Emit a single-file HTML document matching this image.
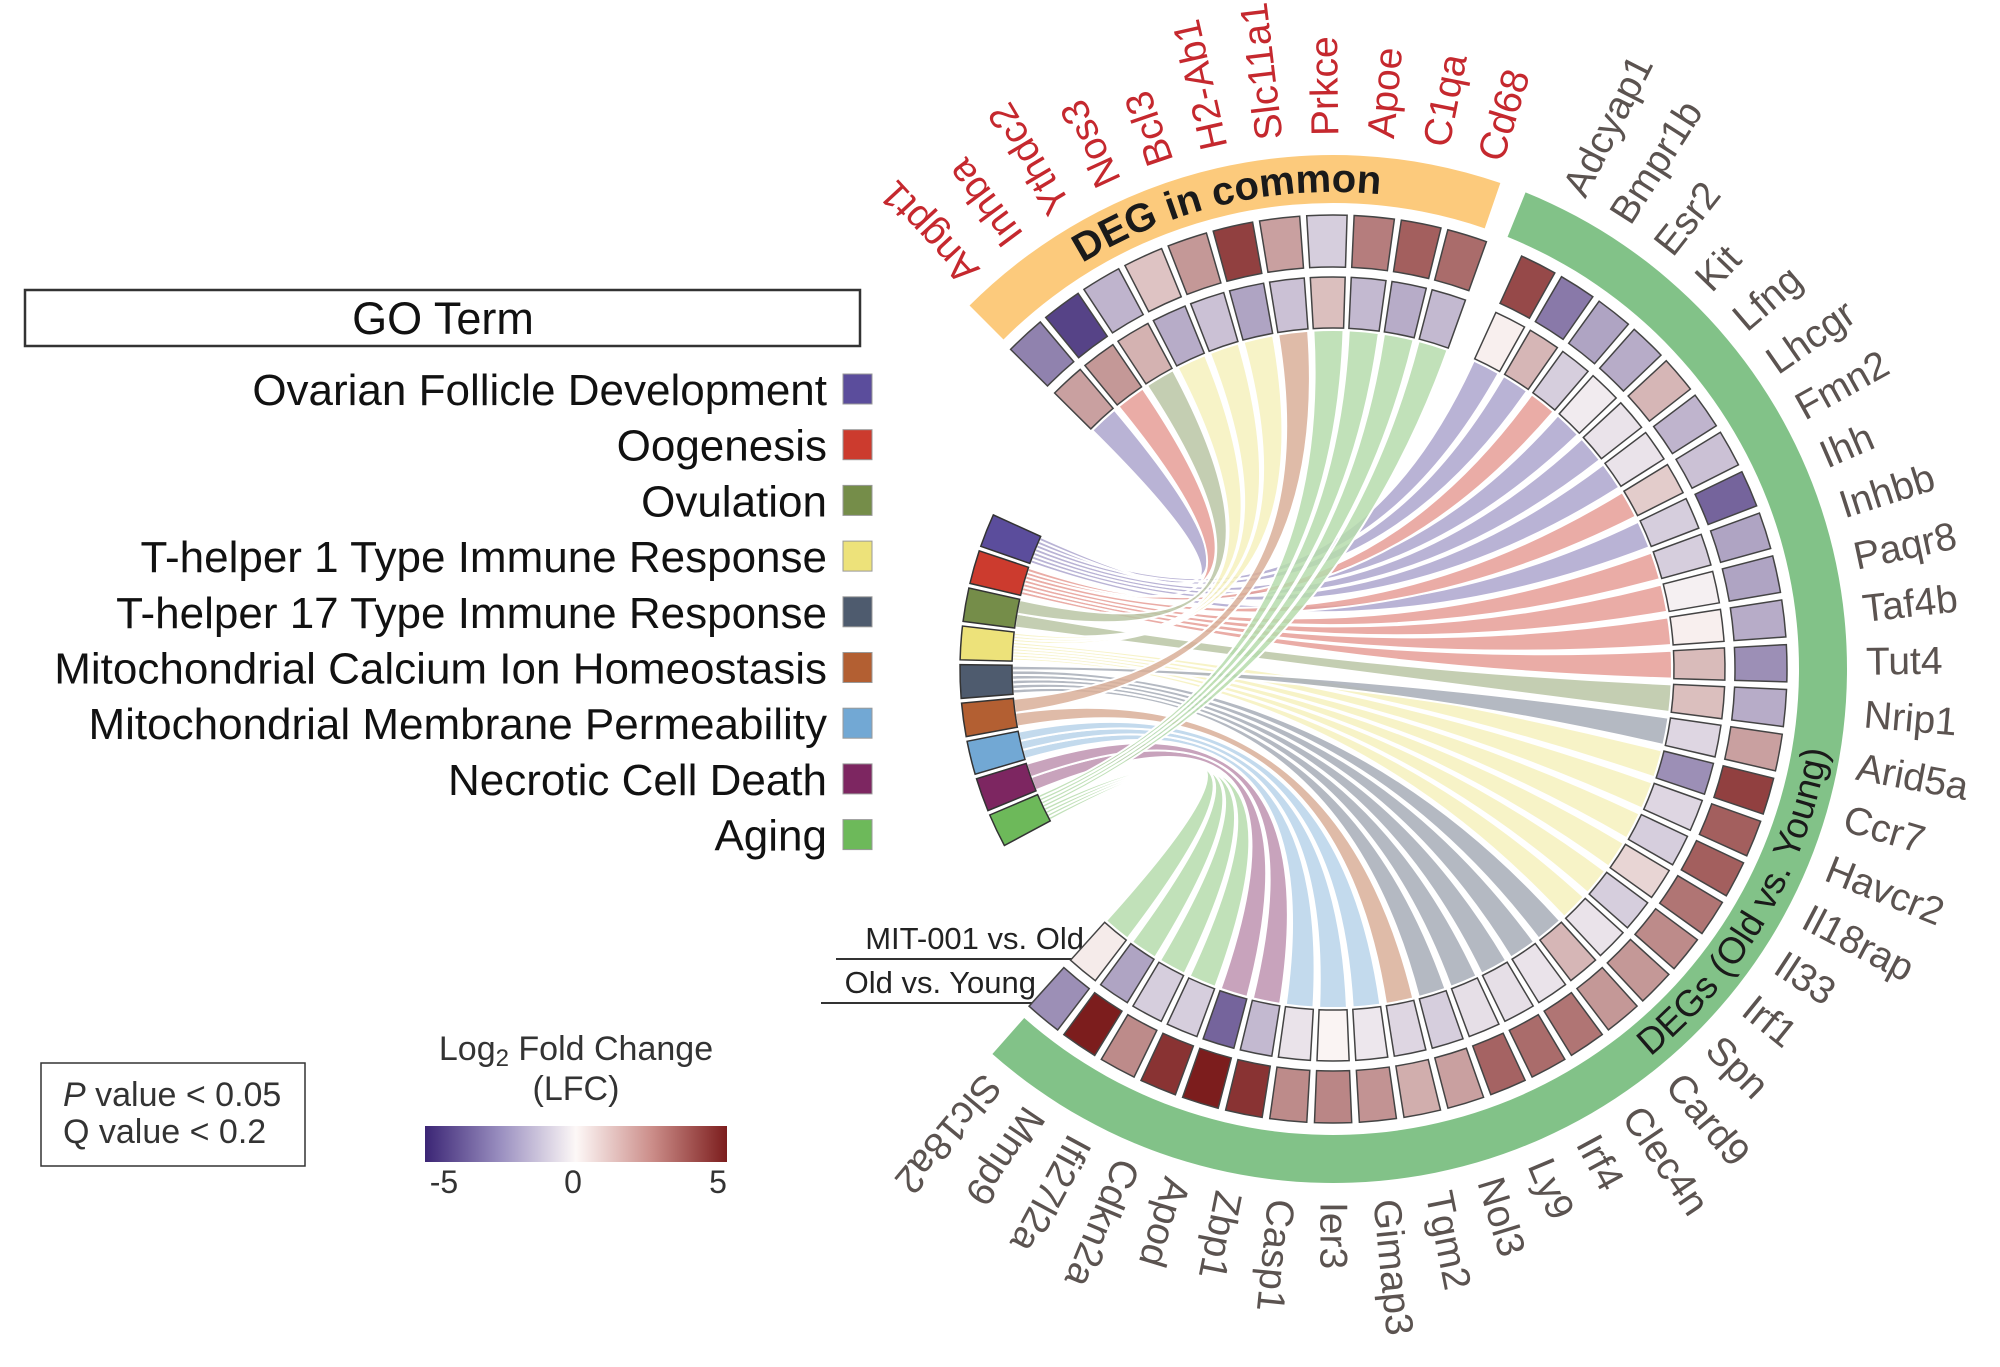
<!DOCTYPE html>
<html><head><meta charset="utf-8">
<style>
html,body{margin:0;padding:0;background:#fff;}
svg{display:block;font-family:"Liberation Sans",Arial,sans-serif;}
</style></head>
<body>
<svg id="chart" width="2000" height="1367" viewBox="0 0 2000 1367">
<defs>
<linearGradient id="lfcGrad" x1="0" x2="1" y1="0" y2="0">
<stop offset="0" stop-color="#3b2575"/><stop offset="0.25" stop-color="#9a8fc0"/>
<stop offset="0.5" stop-color="#fdf8f7"/><stop offset="0.75" stop-color="#cc8e8a"/>
<stop offset="1" stop-color="#7c1d1d"/>
</linearGradient>
</defs>
<g id="legend">
<rect x="25" y="290" width="835" height="56" fill="#fff" stroke="#333" stroke-width="2.5"/>
<text x="443" y="334" text-anchor="middle" font-size="45" fill="#111">GO Term</text>
</g>
<g id="pbox">
<rect x="41" y="1063" width="264" height="103" fill="#fff" stroke="#333" stroke-width="1.5"/>
<text x="63" y="1106" font-size="34" fill="#333"><tspan font-style="italic">P</tspan> value &lt; 0.05</text>
<text x="63" y="1143" font-size="34" fill="#333">Q value &lt; 0.2</text>
</g>
<g id="cbar">
<text x="576" y="1060" text-anchor="middle" font-size="34" fill="#333">Log<tspan font-size="24" dy="6">2</tspan><tspan dy="-6"> Fold Change</tspan></text>
<text x="576" y="1100" text-anchor="middle" font-size="34" fill="#333">(LFC)</text>
<rect x="425" y="1126" width="302" height="36" fill="url(#lfcGrad)"/>
<text x="444" y="1193" text-anchor="middle" font-size="32" fill="#333">-5</text>
<text x="573" y="1193" text-anchor="middle" font-size="32" fill="#333">0</text>
<text x="718" y="1193" text-anchor="middle" font-size="32" fill="#333">5</text>
</g>
<g id="ringlegend">
<text x="1084" y="949" text-anchor="end" font-size="31" fill="#222">MIT-001 vs. Old</text>
<line x1="836" y1="959" x2="1090" y2="959" stroke="#333" stroke-width="2"/>
<text x="1036" y="993" text-anchor="end" font-size="31" fill="#222">Old vs. Young</text>
<line x1="821" y1="1003" x2="1060" y2="1003" stroke="#333" stroke-width="2"/>
</g>
<g id="ribbons"></g>
<g id="cells"></g>
<g id="bands"></g>
<g id="labels"></g>
</svg>
<script>
const goTerms = ["Ovarian Follicle Development","Oogenesis","Ovulation","T-helper 1 Type Immune Response","T-helper 17 Type Immune Response","Mitochondrial Calcium Ion Homeostasis","Mitochondrial Membrane Permeability","Necrotic Cell Death","Aging"];
const goColors = ["#5b4d9c","#cc3b2e","#758d49","#ede27a","#4e5b6e","#b35f32","#72a8d4","#7d2661","#6db95a"];
const commonGenes = ["Angpt1","Inhba","Ythdc2","Nos3","Bcl3","H2-Ab1","Slc11a1","Prkce","Apoe","C1qa","Cd68"];
const commonOldYoung = [-2.8,-4.3,-1.6,1.2,2.2,4.2,2.0,-1.0,2.8,3.5,3.2];
const commonMitOld = [2.0,2.2,1.6,-1.8,-1.3,-2.0,-1.3,1.3,-1.5,-1.8,-1.5];
const commonGo = [0,1,2,3,3,3,5,8,8,8,8];
const degGenes = ["Adcyap1","Bmpr1b","Esr2","Kit","Lfng","Lhcgr","Fmn2","Ihh","Inhbb","Paqr8","Taf4b","Tut4","Nrip1","Arid5a","Ccr7","Havcr2","Il18rap","Il33","Irf1","Spn","Card9","Clec4n","Irf4","Ly9","Nol3","Tgm2","Gimap3","Ier3","Casp1","Zbp1","Apod","Cdkn2a","Ifi27l2a","Mmp9","Slc18a2"];
const degOldYoung = [4.0,-3.0,-2.0,-1.8,1.5,-1.6,-1.3,-3.5,-2.0,-2.0,-1.8,-2.5,-1.8,2.0,4.2,3.5,3.5,3.0,2.5,2.2,2.2,3.0,3.2,3.4,2.0,1.7,2.3,2.6,2.5,4.5,5.0,4.5,2.5,5.0,-2.5];
const degMitOld = [0.2,1.5,-1.0,-0.3,-0.5,-0.5,1.0,-1.0,-1.0,-0.2,0.2,1.4,1.3,-0.8,-2.5,-0.8,-1.0,0.8,-1.0,-0.5,1.5,-0.5,-0.6,-0.6,-1.0,-0.8,-0.4,0.1,-0.5,-1.5,-3.5,-1.0,-1.0,-2.0,0.3];
const degGo = [0,0,1,0,0,0,1,0,1,1,1,1,2,4,3,3,3,3,3,3,4,4,4,4,4,5,6,6,6,7,7,8,8,8,8];

const NS="http://www.w3.org/2000/svg";
const cx=1333, cy=669;
const R_in1=341,R_in2=392,R_out1=402,R_out2=454,R_band1=466,R_band2=514,R_go1=321,R_go2=373;
function commonAngle(i){return -132.7+i*5.99;}
function degAngle(i){return -63.1+i*5.67;}
function goAngle(i){return 201.8-i*5.93;}
function pt(r,a){const t=a*Math.PI/180;return [cx+r*Math.cos(t),cy+r*Math.sin(t)];}
function sector(r1,r2,a1,a2){
  const p1=pt(r2,a1),p2=pt(r2,a2),p3=pt(r1,a2),p4=pt(r1,a1);
  const lg=(a2-a1)>180?1:0;
  return `M${p1[0]},${p1[1]}A${r2},${r2} 0 ${lg} 1 ${p2[0]},${p2[1]}L${p3[0]},${p3[1]}A${r1},${r1} 0 ${lg} 0 ${p4[0]},${p4[1]}Z`;
}
function mix(a,b,t){return a.map((v,k)=>Math.round(v+(b[k]-v)*t));}
function lfcColor(v){
  const w=[253,248,247];
  const t=Math.min(1,Math.abs(v)/5);
  const c=v<0?mix(w,[59,37,117],t):mix(w,[124,29,29],t);
  return `rgb(${c[0]},${c[1]},${c[2]})`;
}
function lighten(hex,t){
  const c=[1,3,5].map(k=>parseInt(hex.substr(k,2),16));
  const m=mix(c,[255,255,255],t);return `rgb(${m[0]},${m[1]},${m[2]})`;
}
const cellsG=document.getElementById('cells');
const ribG=document.getElementById('ribbons');
const bandsG=document.getElementById('bands');
const labG=document.getElementById('labels');
const legG=document.getElementById('legend');

goTerms.forEach((g,i)=>{
  const y=389+i*55.7;
  const t=document.createElementNS(NS,'text');
  t.setAttribute('x',827);t.setAttribute('y',y+16);t.setAttribute('text-anchor','end');
  t.setAttribute('font-size','44');t.setAttribute('fill','#111');t.textContent=g;
  
  
  legG.appendChild(t);
  const r=document.createElementNS(NS,'rect');
  r.setAttribute('x',843);r.setAttribute('y',y-15);r.setAttribute('width',29);r.setAttribute('height',30);
  r.setAttribute('fill',goColors[i]);r.setAttribute('stroke','#999');r.setAttribute('stroke-width','1');
  
  
  legG.appendChild(r);
});

function band(a1,a2,color,name){
  const p=document.createElementNS(NS,'path');
  p.setAttribute('d',sector(R_band1,R_band2,a1,a2));p.setAttribute('fill',color);
  
  
  bandsG.appendChild(p);
}
band(-135,-71,'#fcca7c','deg-in-common-band');
band(-68,131.5,'#82c288','deg-old-vs-young-band');
const defs=document.querySelector('defs');
function arcPath(id,r,a1,a2,sweep){
  const p1=pt(r,a1),p2=pt(r,a2);
  const p=document.createElementNS(NS,'path');p.setAttribute('id',id);
  p.setAttribute('d',`M${p1[0]},${p1[1]}A${r},${r} 0 0 ${sweep} ${p2[0]},${p2[1]}`);
  defs.appendChild(p);
}
arcPath('arcTop',477,-140,-66,1);
arcPath('arcRight',501,75,-15,0);
function bandText(href,str,size,weight,name){
  const t=document.createElementNS(NS,'text');t.setAttribute('font-size',size);t.setAttribute('font-weight',weight);
  t.setAttribute('fill','#1a1a1a');
  
  
  const tp=document.createElementNS(NS,'textPath');tp.setAttribute('href','#'+href);
  tp.setAttribute('startOffset','50%');tp.setAttribute('text-anchor','middle');tp.textContent=str;
  t.appendChild(tp);bandsG.appendChild(t);
}
bandText('arcTop','DEG in common',40,'bold','deg-in-common-title');
bandText('arcRight','DEGs (Old vs. Young)',37,'normal','degs-old-vs-young-title');

goTerms.forEach((g,i)=>{
  const a=goAngle(i);
  const p=document.createElementNS(NS,'path');
  p.setAttribute('d',sector(R_go1,R_go2,a-2.6,a+2.6));p.setAttribute('fill',goColors[i]);
  p.setAttribute('stroke','#333');p.setAttribute('stroke-width','1.5');
  
  
  cellsG.appendChild(p);
});

const genes=[];
commonGenes.forEach((g,i)=>genes.push({name:g,a:commonAngle(i),w:2.55,oy:commonOldYoung[i],mo:commonMitOld[i],go:commonGo[i],color:'#c5282e'}));
degGenes.forEach((g,i)=>genes.push({name:g,a:degAngle(i),w:2.35,oy:degOldYoung[i],mo:degMitOld[i],go:degGo[i],color:'#5b5350'}));

genes.forEach(gn=>{
  const o=document.createElementNS(NS,'path');
  o.setAttribute('d',sector(R_out1,R_out2,gn.a-gn.w,gn.a+gn.w));o.setAttribute('fill',lfcColor(gn.oy));
  o.setAttribute('stroke','#444');o.setAttribute('stroke-width','1.5');
  
  
  cellsG.appendChild(o);
  const n=document.createElementNS(NS,'path');
  n.setAttribute('d',sector(R_in1,R_in2,gn.a-gn.w,gn.a+gn.w));n.setAttribute('fill',lfcColor(gn.mo));
  n.setAttribute('stroke','#444');n.setAttribute('stroke-width','1.5');
  
  
  cellsG.appendChild(n);
  const p=pt(533,gn.a);
  const t=document.createElementNS(NS,'text');
  t.setAttribute('x',p[0]);t.setAttribute('y',p[1]);t.setAttribute('font-size','39');t.setAttribute('fill',gn.color);
  t.setAttribute('dominant-baseline','central');
  t.setAttribute('transform',`rotate(${gn.a} ${p[0]} ${p[1]})`);t.textContent=gn.name;
  
  
  labG.appendChild(t);
});

goTerms.forEach((g,gi)=>{
  const ga=goAngle(gi);
  const linked=genes.filter(x=>x.go===gi);
  linked.sort((x,y)=>(((y.a-ga)%360+360)%360)-(((x.a-ga)%360+360)%360));
  const a0=ga-2.5,step=5.0/Math.max(1,linked.length);
  linked.forEach((gn,k)=>{
    const s1=a0+k*step,s2=a0+(k+1)*step;
    const b1=gn.a-gn.w,b2=gn.a+gn.w;
    const A1=pt(R_go1,s1),A2=pt(R_go1,s2),B1=pt(R_in1-2,b1),B2=pt(R_in1-2,b2);
    const d=`M${A1[0]},${A1[1]}A${R_go1},${R_go1} 0 0 1 ${A2[0]},${A2[1]}Q${cx},${cy} ${B1[0]},${B1[1]}A${R_in1},${R_in1} 0 0 1 ${B2[0]},${B2[1]}Q${cx},${cy} ${A1[0]},${A1[1]}Z`;
    const p=document.createElementNS(NS,'path');
    p.setAttribute('d',d);p.setAttribute('fill',lighten(goColors[gi],0.5));
    p.setAttribute('fill-opacity','0.85');p.setAttribute('stroke','#fff');p.setAttribute('stroke-width','2');
    
    
    ribG.appendChild(p);
  });
});
</script>
</body></html>
